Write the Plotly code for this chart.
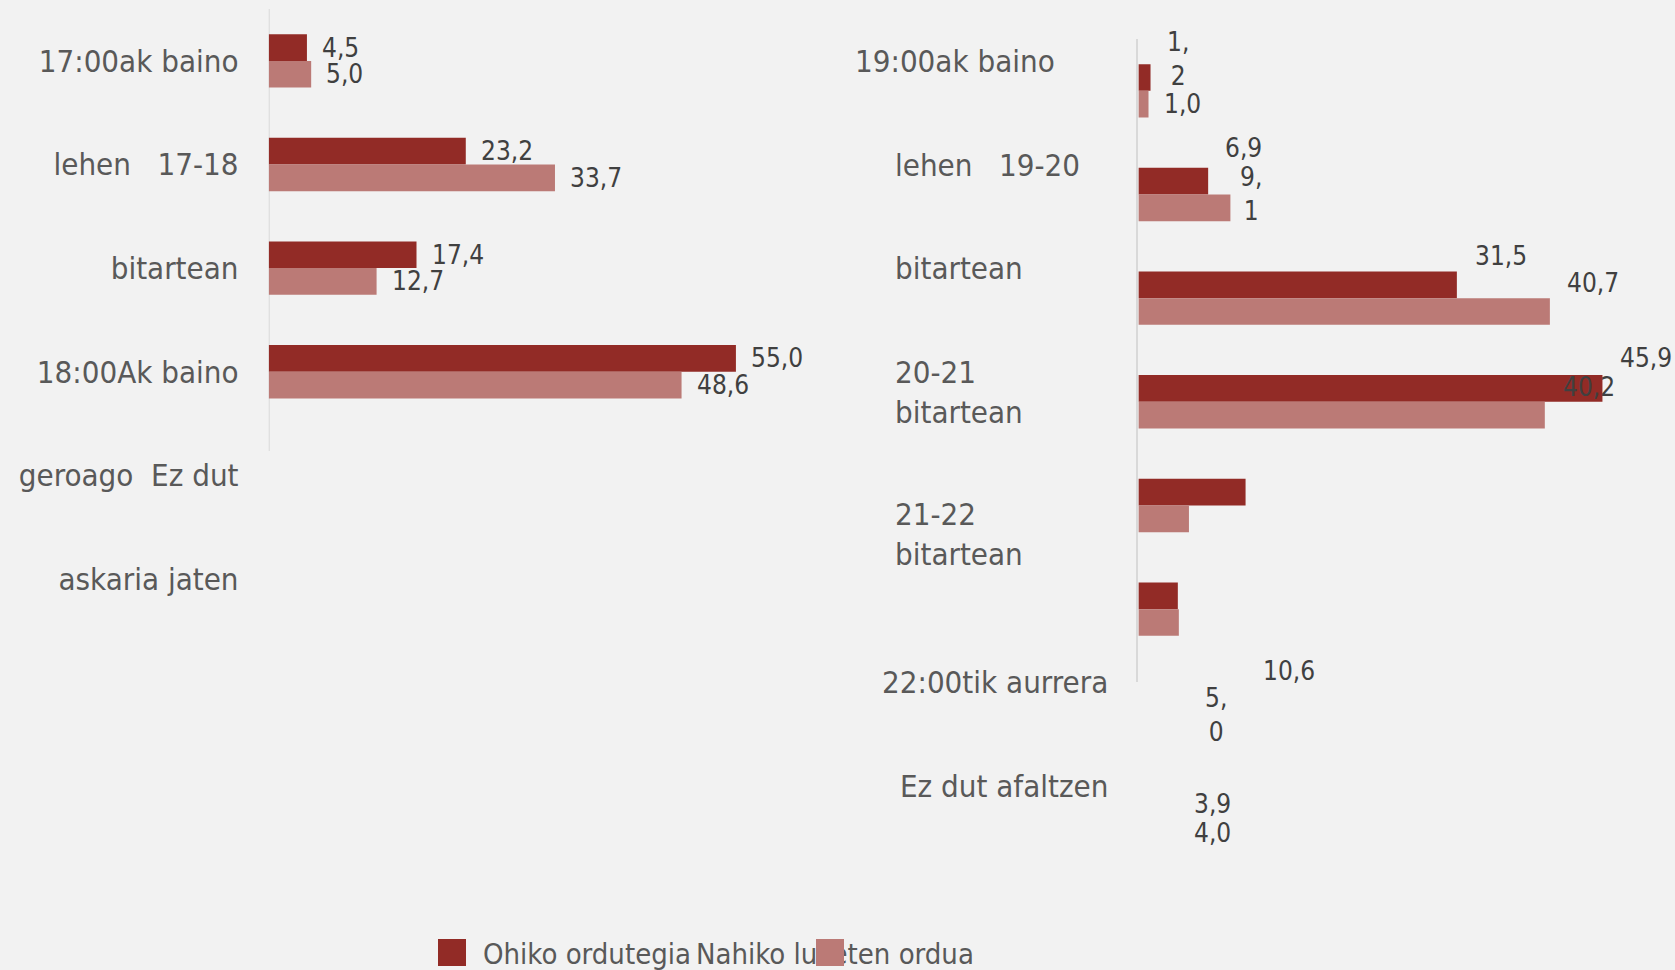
import plotly.graph_objects as go

W, H = 1675, 970

# ---------------- data ----------------
left_tick_labels = ["17:00ak baino", "lehen\u00a0\u00a0\u00a017-18", "bitartean",
                    "18:00Ak baino", "geroago\u00a0\u00a0Ez dut", "askaria jaten"]
left_ohiko = [4.5, 23.2, 17.4, 55.0]
left_nahiko = [5.0, 33.7, 12.7, 48.6]

right_labels = ["19:00ak baino", "lehen\u00a0\u00a0\u00a019-20", "bitartean",
                "20-21<br>bitartean", "21-22<br>bitartean", "22:00tik aurrera",
                "Ez dut afaltzen"]
right_ohiko = [1.2, 6.9, 31.5, 45.9, 10.6, 3.9]
right_nahiko = [1.0, 9.1, 40.7, 40.2, 5.0, 4.0]

series_names = ["Ohiko ordutegia", "Nahiko luketen ordua"]

# ---------------- styles ----------------
DARK = "#922B26"
LIGHT = "#BB7A76"
BG = "#F2F2F2"
AXIS = "#D9D9D9"
LABEL = "#595959"
VALUE = "#404040"
FONT = "DejaVu Sans Condensed, DejaVu Sans, sans-serif"
CAT_SIZE = 31
VAL_SIZE = 26
LEG_SIZE = 29
BARGAP = 0.485

# label offsets (px) for right panel value labels (xshift, yshift) and wrapping
right_ohiko_shift = [(14, 18), (15, 33), (16, 29), (16, 30), (15, -179), (14, -208)]
right_nahiko_shift = [(13, 0), (8, 14), (15, 29), (16, 28), (14, -196), (13, -211)]
right_ohiko_wrap = [True, False, False, False, False, False]
right_nahiko_wrap = [False, True, False, False, True, False]


def fmt(v, wrap=False):
    s = f"{v:.1f}".replace(".", ",")
    return s.replace(",", ",<br>") if wrap else s


def px(x):
    return x / W


def py(y):
    return 1 - y / H


fig = go.Figure()
for xs, ys, col, nm, xa, ya in [
    (left_ohiko, None, DARK, series_names[0], "x", "y"),
    (left_nahiko, None, LIGHT, series_names[1], "x", "y"),
    (right_ohiko, None, DARK, series_names[0], "x2", "y2"),
    (right_nahiko, None, LIGHT, series_names[1], "x2", "y2"),
]:
    fig.add_trace(go.Bar(y=list(range(len(xs))), x=xs, orientation="h",
                         marker=dict(color=col, line=dict(width=0)), name=nm,
                         xaxis=xa, yaxis=ya, showlegend=False, hoverinfo="x"))

half = (1 - BARGAP) / 4  # half of one bar thickness in category units
annotations = []
# left value labels
for vals, sign in [(left_ohiko, -1), (left_nahiko, 1)]:
    for i, v in enumerate(vals):
        annotations.append(dict(x=v, y=i + sign * half, xref="x", yref="y", text=fmt(v),
                                xanchor="left", yanchor="middle", xshift=13, showarrow=False,
                                font=dict(size=VAL_SIZE, color=VALUE, family=FONT)))
# right value labels
for vals, sign, shifts, wraps in [(right_ohiko, -1, right_ohiko_shift, right_ohiko_wrap),
                                  (right_nahiko, 1, right_nahiko_shift, right_nahiko_wrap)]:
    for i, v in enumerate(vals):
        xs, ys = shifts[i]
        annotations.append(dict(x=v, y=i + sign * half, xref="x2", yref="y2",
                                text=fmt(v, wraps[i]), align="center",
                                xanchor="left", yanchor="middle", xshift=xs, yshift=ys,
                                showarrow=False,
                                font=dict(size=VAL_SIZE, color=VALUE, family=FONT)))

# right category labels (placed as in the original layout)
right_label_pos = [(853, 61, "left"), (893, 164.5, "left"), (893, 268, "left"),
                   (893, 391.5, "left"), (893, 533.5, "left"), (1110, 681.5, "right"),
                   (1110, 786, "right")]
for txt, (lx, ly, anc) in zip(right_labels, right_label_pos):
    annotations.append(dict(x=px(lx), y=py(ly), xref="paper", yref="paper", text=txt,
                            xanchor=anc, yanchor="middle", align="left", showarrow=False,
                            font=dict(size=CAT_SIZE, color=LABEL, family=FONT)))

# legend (custom, as in the original)
annotations.append(dict(x=px(481), y=py(954), xref="paper", yref="paper",
                        text=series_names[0], xanchor="left", yanchor="middle",
                        showarrow=False, font=dict(size=LEG_SIZE, color=LABEL, family=FONT)))
annotations.append(dict(x=px(694), y=py(954), xref="paper", yref="paper",
                        text=series_names[1], xanchor="left", yanchor="middle",
                        showarrow=False, font=dict(size=LEG_SIZE, color=LABEL, family=FONT)))
for cx, col in [(452, DARK), (830, LIGHT)]:
    annotations.append(dict(x=px(cx), y=py(952.5), xref="paper", yref="paper",
                            text="\u00a0", width=28, height=27, bgcolor=col, borderpad=0,
                            borderwidth=0, xanchor="center", yanchor="middle",
                            showarrow=False, font=dict(size=10, color=col)))

fig.update_layout(
    width=W, height=H,
    margin=dict(l=0, r=0, t=0, b=0),
    paper_bgcolor=BG, plot_bgcolor=BG,
    barmode="group", bargap=BARGAP, bargroupgap=0,
    showlegend=False,
    font=dict(family=FONT, color=LABEL),
    annotations=annotations,
    xaxis=dict(domain=[px(268.7), px(268.7 + 60 * 8.495)], range=[0, 60], visible=False,
               fixedrange=True),
    yaxis=dict(domain=[py(9.1 + 6 * 103.6), py(9.1)], range=[5.5, -0.5],
               tickvals=list(range(len(left_tick_labels))), ticktext=left_tick_labels,
               tickfont=dict(size=CAT_SIZE, color=LABEL, family=FONT),
               ticks="outside", ticklen=23, tickcolor="rgba(0,0,0,0)",
               showline=False, showgrid=False, zeroline=False, fixedrange=True),
    xaxis2=dict(domain=[px(1138.4), px(1138.4 + 50 * 10.11)], range=[0, 50], visible=False,
                anchor="y2", fixedrange=True),
    yaxis2=dict(domain=[py(681.7), py(39)], range=[5.7, -0.5], anchor="x2",
                showticklabels=False, ticks="", showline=True, linecolor=AXIS, linewidth=2,
                showgrid=False, zeroline=False, fixedrange=True),
    shapes=[dict(type="line", xref="x", yref="y", x0=0, x1=0, y0=-0.5, y1=3.765,
                 line=dict(color=AXIS, width=2), layer="below")],
)

fig.write_html("out.html", config={"displayModeBar": False},
               post_script="document.body.style.margin='0px';"
                           "document.body.style.overflow='hidden';")
